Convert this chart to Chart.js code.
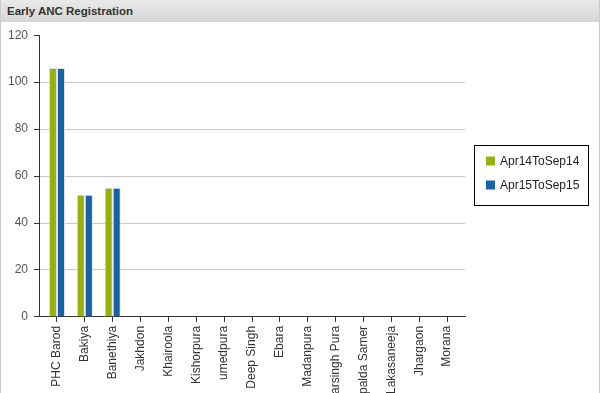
<!DOCTYPE html>
<html>
<head>
<meta charset="utf-8">
<script src="https://cdn.jsdelivr.net/npm/chart.js@4/dist/chart.umd.min.js"></script>
<style>
  html,body{margin:0;padding:0;background:#fff;width:600px;height:393px;overflow:hidden;}
  .panel{position:absolute;left:0;top:0;width:598px;height:393px;border-left:1px solid #c8c8c8;border-right:1px solid #c8c8c8;}
  .title{height:22px;background:linear-gradient(#e9e9e9,#d5d5d5);
    font:bold 11.5px "Liberation Sans",Arial,sans-serif;line-height:22px;color:#333;padding-left:6px;}
  .wrap{position:absolute;left:-1px;top:22px;width:600px;height:371px;}
</style>
</head>
<body>
<div class="panel">
  <div class="title">Early ANC Registration</div>
  <div class="wrap"><canvas id="c"></canvas></div>
</div>
<script>
const categories = ['PHC Barod','Bakiya','Banethiya','Jakhdon','Khairoola','Kishorpura','umedpura','Deep Singh','Ebara','Madanpura','arsingh Pura','palda Samer','Lakasaneeja','Jhargaon','Morana'];
const apr14 = [106, 52, 55, 0, 0, 0, 0, 0, 0, 0, 0, 0, 0, 0, 0];
const apr15 = [106, 52, 55, 0, 0, 0, 0, 0, 0, 0, 0, 0, 0, 0, 0];
const yTicks = [0, 20, 40, 60, 80, 100, 120];
const FONT = '"Liberation Sans", Arial';

// keep category slots a little inside the axis lines, like the original
const insetX = {
  id: 'insetX',
  afterLayout(chart) {
    const x = chart.scales.x;
    x._startPixel += 4;
    x._length -= 8;
  }
};

// boxed legend to the right of the plot
const boxLegend = {
  id: 'boxLegend',
  afterDraw(chart) {
    const { ctx, chartArea } = chart;
    const cy = (chartArea.top + chartArea.bottom) / 2;
    const left = Math.round(chartArea.right) + 9;
    const top = Math.round(cy - 31);
    ctx.save();
    ctx.strokeStyle = '#000';
    ctx.lineWidth = 1;
    ctx.strokeRect(left + .5, top + .5, 114, 60);
    ctx.font = '12px ' + FONT;
    ctx.textBaseline = 'middle';
    ctx.textAlign = 'left';
    chart.data.datasets.forEach((ds, i) => {
      const y = top + 16 + i * 24;
      ctx.fillStyle = ds.backgroundColor;
      ctx.fillRect(left + 12, y - 4.5, 9, 9);
      ctx.fillStyle = '#222';
      ctx.fillText(ds.label, left + 26, y + 0.5);
    });
    ctx.restore();
  }
};

new Chart(document.getElementById('c'), {
  type: 'bar',
  data: {
    labels: categories,
    datasets: [
      { label: 'Apr14ToSep14', data: apr14, backgroundColor: '#97b10c', borderColor: '#e3e3e3', borderWidth: 1, borderSkipped: 'bottom' },
      { label: 'Apr15ToSep15', data: apr15, backgroundColor: '#1862a8', borderColor: '#e3e3e3', borderWidth: 1, borderSkipped: 'bottom' }
    ]
  },
  options: {
    responsive: true,
    maintainAspectRatio: false,
    animation: false,
    layout: { padding: { top: 4, right: 135, left: 2, bottom: -5 } },
    datasets: { bar: { categoryPercentage: 0.58, barPercentage: 1 } },
    plugins: {
      legend: { display: false },
      tooltip: { enabled: false }
    },
    scales: {
      y: {
        min: 0, max: 120,
        afterBuildTicks: s => { s.ticks = yTicks.map(v => ({ value: v })); },
        border: { color: '#333', width: 1 },
        grid: {
          color: c => (c.tick && (c.tick.value === 120 || c.tick.value === 0)) ? 'rgba(0,0,0,0)' : '#c8c8c8',
          tickColor: '#333', tickLength: 5
        },
        ticks: { color: '#555', padding: 6, font: { family: FONT, size: 12 } }
      },
      x: {
        border: { color: '#333', width: 1 },
        grid: { drawOnChartArea: false, offset: false, tickColor: '#333', tickLength: 5 },
        ticks: {
          color: '#333', minRotation: 90, maxRotation: 90, autoSkip: false, padding: 4,
          font: { family: FONT, size: 12 }
        }
      }
    }
  },
  plugins: [insetX, boxLegend]
});
</script>
</body>
</html>
